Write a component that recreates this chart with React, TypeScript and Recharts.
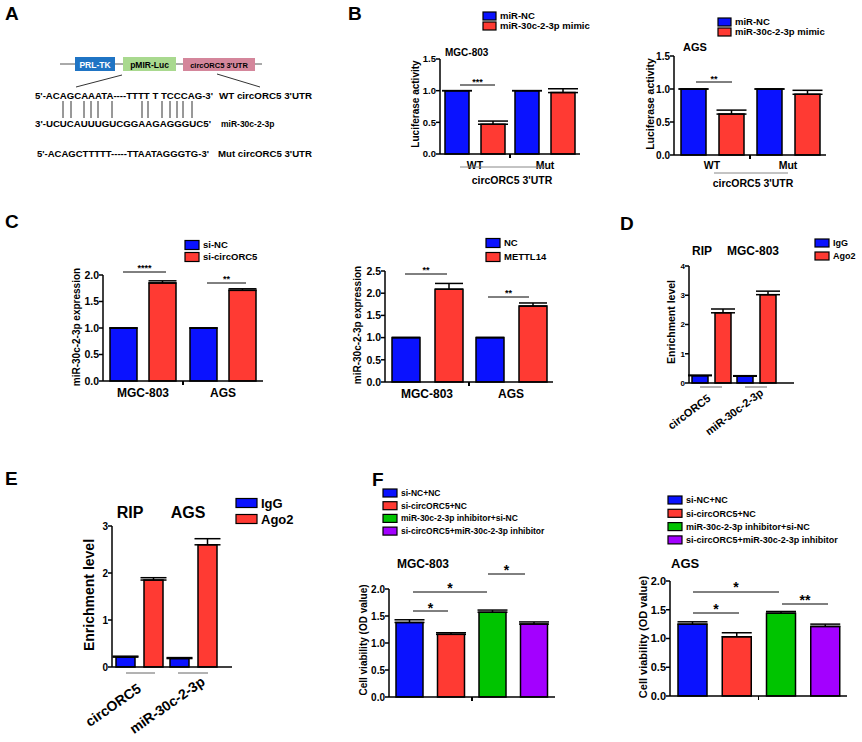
import { BarChart, Bar, XAxis, YAxis, ErrorBar, Cell } from 'recharts';

const FONT = '"Liberation Sans", Arial, Helvetica, sans-serif';
const BLUE = '#0a12ff';
const RED = '#ff3a33';
const GREEN = '#00c400';
const PURPLE = '#a300ff';

// B: luciferase reporter
const bGroups = ['WT', 'Mut'];
const bMgcNc = [1.0, 1.0];
const bMgcNcErr = [0, 0];
const bMgcMimic = [0.47, 0.97];
const bMgcMimicErr = [0.05, 0.06];
const bAgsNc = [1.0, 1.0];
const bAgsNcErr = [0, 0];
const bAgsMimic = [0.62, 0.92];
const bAgsMimicErr = [0.06, 0.06];
const bTicks = [0, 0.5, 1.0, 1.5];

// C: miR-30c-2-3p expression
const cGroups = ['MGC-803', 'AGS'];
const cSiNc = [1.0, 1.0];
const cSiNcErr = [0, 0];
const cSiCirc = [1.85, 1.71];
const cSiCircErr = [0.04, 0.03];
const cNc = [1.0, 1.0];
const cNcErr = [0, 0];
const cMettl14 = [2.09, 1.71];
const cMettl14Err = [0.13, 0.07];
const cTicksLeft = [0, 0.5, 1.0, 1.5, 2.0];
const cTicksRight = [0, 0.5, 1.0, 1.5, 2.0, 2.5];

// D / E: RIP
const ripTargets = ['circORC5', 'miR-30c-2-3p'];
const dIgG = [0.25, 0.23];
const dIgGErr = [0.02, 0.02];
const dAgo2 = [2.4, 3.02];
const dAgo2Err = [0.13, 0.12];
const dTicks = [0, 1, 2, 3, 4];
const eIgG = [0.21, 0.18];
const eIgGErr = [0.02, 0.02];
const eAgo2 = [1.85, 2.6];
const eAgo2Err = [0.05, 0.13];
const eTicks = [0, 1, 2, 3];

// F: cell viability
const fGroups = ['si-NC+NC', 'si-circORC5+NC', 'miR-30c-2-3p inhibitor+si-NC', 'si-circORC5+miR-30c-2-3p inhibitor'];
const fColors = [BLUE, RED, GREEN, PURPLE];
const fMgc = [1.38, 1.16, 1.57, 1.35];
const fMgcErr = [0.05, 0.03, 0.04, 0.04];
const fAgs = [1.25, 1.03, 1.44, 1.21];
const fAgsErr = [0.04, 0.07, 0.03, 0.04];
const fTicks = [0, 0.5, 1.0, 1.5, 2.0];

// A: schematic
const pairLines = [63, 71, 84, 91, 98, 112, 142, 148, 162, 170, 177, 183, 192];

const axisStyle = { stroke: '#000', strokeWidth: 1.5 };
const one = (v: number) => v.toFixed(1);
const int = (v: number) => String(v);

function XTick(props: any) {
  const { x, y, payload, fs, dy, angle, dx } = props;
  if (angle) {
    const px = x + dx;
    const py = y + dy;
    return (
      <text x={px} y={py} transform={`rotate(${angle} ${px} ${py})`} textAnchor="middle"
        fontSize={fs} fontWeight={700} fontFamily={FONT} fill="#000">{payload.value}</text>
    );
  }
  return (
    <text x={x} y={y + dy} textAnchor="middle" fontSize={fs} fontWeight={700} fontFamily={FONT} fill="#000">
      {payload.value}
    </text>
  );
}

type GroupedProps = {
  left: number; top: number; w: number; h: number;
  groups: string[];
  a: number[]; aErr: number[]; b: number[]; bErr: number[];
  yMax: number; ticks: number[]; fmt: (v: number) => string; tickFs: number;
  barSize: number; barGap: number; errW: number; padRight?: number;
  xFs: number; xDy: number; angle?: number; xDx?: number; midTick?: boolean;
};

function GroupedBars(p: GroupedProps) {
  const data = p.groups.map((g, i) => ({
    name: g, a: p.a[i], aErr: [0, p.aErr[i]], b: p.b[i], bErr: [0, p.bErr[i]],
  }));
  const L = 44, T = 10, R = 10, B = 80;
  const pr = p.padRight ?? 0;
  return (
    <div style={{ position: 'absolute', left: p.left - L, top: p.top - T }}>
      <BarChart width={p.w + L + R} height={p.h + T + B} data={data}
        margin={{ top: T, right: R, left: 0, bottom: 0 }} barGap={p.barGap} barSize={p.barSize}>
        <XAxis dataKey="name" height={B} axisLine={axisStyle} tickLine={false} tickSize={0} tickMargin={0}
          interval={0} padding={{ left: 0, right: pr }}
          tick={(tp: any) => <XTick {...tp} fs={p.xFs} dy={p.xDy} angle={p.angle} dx={p.xDx ?? 0} />} />
        <YAxis width={L} domain={[0, p.yMax]} ticks={p.ticks} tickFormatter={p.fmt} interval={0}
          axisLine={axisStyle} tickLine={axisStyle} tickSize={4} tickMargin={0}
          tick={{ fill: '#000', fontSize: p.tickFs, fontWeight: 700, fontFamily: FONT }} />
        <Bar dataKey="a" fill={BLUE} stroke="#000" strokeWidth={1.5} isAnimationActive={false}>
          <ErrorBar dataKey="aErr" width={p.errW} stroke="#000" strokeWidth={1.5} direction="y" />
        </Bar>
        <Bar dataKey="b" fill={RED} stroke="#000" strokeWidth={1.5} isAnimationActive={false}>
          <ErrorBar dataKey="bErr" width={p.errW} stroke="#000" strokeWidth={1.5} direction="y" />
        </Bar>
      </BarChart>
      {p.midTick && (
        <div style={{ position: 'absolute', left: L + (p.w - pr) / 2 - 0.75, top: T + p.h, width: 1.5, height: 4, background: '#000' }} />
      )}
    </div>
  );
}

type FourProps = {
  left: number; top: number; w: number; h: number;
  values: number[]; errs: number[]; barSize: number; tickFs: number;
};

function FourBars(p: FourProps) {
  const data = fGroups.map((g, i) => ({ name: g, v: p.values[i], err: [0, p.errs[i]] }));
  const L = 44, T = 10, R = 10, B = 10;
  return (
    <div style={{ position: 'absolute', left: p.left - L, top: p.top - T }}>
      <BarChart width={p.w + L + R} height={p.h + T + B} data={data}
        margin={{ top: T, right: R, left: 0, bottom: 0 }} barSize={p.barSize}>
        <XAxis dataKey="name" height={B} axisLine={axisStyle} tickLine={false} tick={false} />
        <YAxis width={L} domain={[0, 2]} ticks={fTicks} tickFormatter={one} interval={0}
          axisLine={axisStyle} tickLine={axisStyle} tickSize={4} tickMargin={0}
          tick={{ fill: '#000', fontSize: p.tickFs, fontWeight: 700, fontFamily: FONT }} />
        <Bar dataKey="v" stroke="#000" strokeWidth={1.5} isAnimationActive={false}>
          {p.values.map((_, i) => <Cell key={i} fill={fColors[i]} />)}
          <ErrorBar dataKey="err" width={15} stroke="#000" strokeWidth={1.5} direction="y" />
        </Bar>
      </BarChart>
      <div style={{ position: 'absolute', left: L + p.w / 2 - 0.75, top: T + p.h, width: 1.5, height: 4, background: '#000' }} />
    </div>
  );
}

function Txt(props: { x: number; y: number; s: number; a?: 'start' | 'middle' | 'end'; len?: number; fill?: string; children: any }) {
  return (
    <text x={props.x} y={props.y} fontSize={props.s} fontWeight={700} fontFamily={FONT} fill={props.fill ?? '#000'}
      textAnchor={props.a ?? 'start'} textLength={props.len} lengthAdjust={props.len ? 'spacingAndGlyphs' : undefined}>
      {props.children}
    </text>
  );
}

function YLabel({ cx, cy, s, children }: { cx: number; cy: number; s: number; children: any }) {
  const x = cx + 0.35 * s;
  return (
    <text x={x} y={cy} transform={`rotate(-90 ${x} ${cy})`} textAnchor="middle" fontSize={s} fontWeight={700}
      fontFamily={FONT} fill="#000">{children}</text>
  );
}

function Legend({ x, y, dy, sw, sh, s, items }: { x: number; y: number; dy: number; sw: number; sh: number; s: number; items: [string, string][] }) {
  return (
    <g>
      {items.map(([label, color], i) => (
        <g key={label}>
          <rect x={x} y={y + i * dy - sh / 2} width={sw} height={sh} fill={color} stroke="#000" strokeWidth={1.2} />
          <Txt x={x + sw + 4} y={y + i * dy + 0.36 * s} s={s}>{label}</Txt>
        </g>
      ))}
    </g>
  );
}

function Sig({ x1, x2, y, label, s, gap }: { x1: number; x2: number; y: number; label: string; s: number; gap: number }) {
  return (
    <g>
      <line x1={x1} x2={x2} y1={y} y2={y} stroke="#000" strokeWidth={1} />
      <Txt x={(x1 + x2) / 2} y={y - gap + 0.57 * s} s={s} a="middle">{label}</Txt>
    </g>
  );
}

export default function App() {
  return (
    <div style={{ position: 'absolute', left: 0, top: 0, width: 862, height: 742, background: '#fff', overflow: 'hidden' }}>
      {/* B */}
      <GroupedBars left={440} top={59} w={140} h={95} groups={bGroups} a={bMgcNc} aErr={bMgcNcErr}
        b={bMgcMimic} bErr={bMgcMimicErr} yMax={1.5} ticks={bTicks} fmt={one} tickFs={9.5}
        barSize={24} barGap={12} errW={15} xFs={10.5} xDy={15} midTick />
      <GroupedBars left={674} top={56} w={152} h={99} groups={bGroups} a={bAgsNc} aErr={bAgsNcErr}
        b={bAgsMimic} bErr={bAgsMimicErr} yMax={1.5} ticks={bTicks} fmt={one} tickFs={10}
        barSize={25} barGap={13} errW={15} xFs={10.5} xDy={14} midTick />
      {/* C */}
      <GroupedBars left={103} top={275} w={160} h={106} groups={cGroups} a={cSiNc} aErr={cSiNcErr}
        b={cSiCirc} bErr={cSiCircErr} yMax={2} ticks={cTicksLeft} fmt={one} tickFs={10.5}
        barSize={27} barGap={12} errW={14} xFs={12} xDy={16} midTick />
      <GroupedBars left={385} top={271} w={168} h={111} groups={cGroups} a={cNc} aErr={cNcErr}
        b={cMettl14} bErr={cMettl14Err} yMax={2.5} ticks={cTicksRight} fmt={one} tickFs={10.5}
        barSize={28} barGap={15} errW={14} xFs={12} xDy={16} midTick />
      {/* D */}
      <GroupedBars left={689} top={266} w={105} h={117} groups={ripTargets} a={dIgG} aErr={dIgGErr}
        b={dAgo2} bErr={dAgo2Err} yMax={4} ticks={dTicks} fmt={int} tickFs={8}
        barSize={16} barGap={7} errW={12} padRight={15} xFs={11} xDy={32} xDx={-20} angle={-37} />
      {/* E */}
      <GroupedBars left={112} top={526} w={120} h={141} groups={ripTargets} a={eIgG} aErr={eIgGErr}
        b={eAgo2} bErr={eAgo2Err} yMax={3} ticks={eTicks} fmt={int} tickFs={10}
        barSize={19} barGap={9} errW={13} padRight={12} xFs={14} xDy={42} xDx={-23} angle={-35} />
      {/* F */}
      <FourBars left={389} top={589} w={166} h={108} values={fMgc} errs={fMgcErr} barSize={27} tickFs={10} />
      <FourBars left={670} top={581} w={177} h={115} values={fAgs} errs={fAgsErr} barSize={29} tickFs={11} />

      <svg width={862} height={742} style={{ position: 'absolute', left: 0, top: 0, pointerEvents: 'none' }}>
        {/* panel letters */}
        <Txt x={5} y={20} s={19}>A</Txt>
        <Txt x={348} y={20} s={19}>B</Txt>
        <Txt x={5} y={228} s={19}>C</Txt>
        <Txt x={620} y={230} s={19}>D</Txt>
        <Txt x={5} y={485} s={19}>E</Txt>
        <Txt x={372} y={486} s={19}>F</Txt>

        {/* A schematic */}
        <line x1={60} x2={262} y1={64} y2={64} stroke="#555" strokeWidth={1} />
        <rect x={75} y={57} width={40} height={14} fill="#1f74c4" />
        <Txt x={95} y={67.5} s={8.5} a="middle" fill="#fff">PRL-TK</Txt>
        <rect x={123} y={57} width={53} height={14} fill="#a9d98f" />
        <Txt x={149.5} y={67.5} s={8.5} a="middle">pMIR-Luc</Txt>
        <rect x={183} y={58} width={72} height={13} fill="#d4869b" />
        <Txt x={219} y={67.5} s={7.5} a="middle">circORC5 3'UTR</Txt>
        <line x1={122} y1={75} x2={76} y2={87} stroke="#333" strokeWidth={1} />
        <line x1={217} y1={74} x2={260} y2={87} stroke="#333" strokeWidth={1} />
        <Txt x={35} y={99} s={8.5} len={178}>5'-ACAGCAAATA----TTTT T TCCCAG-3'</Txt>
        <Txt x={219} y={99} s={8.5} len={93}>WT circORC5 3'UTR</Txt>
        {pairLines.map((x) => (
          <line key={x} x1={x} x2={x} y1={101} y2={118} stroke="#333" strokeWidth={1} />
        ))}
        <Txt x={35} y={127} s={8.5} len={176}>3'-UCUCAUUUGUCGGAAGAGGGUC5'</Txt>
        <Txt x={221} y={127} s={8.5}>miR-30c-2-3p</Txt>
        <Txt x={37} y={157} s={8.5} len={172}>5'-ACAGCTTTTT-----TTAATAGGGTG-3'</Txt>
        <Txt x={218} y={157} s={8.5} len={94}>Mut circORC5 3'UTR</Txt>

        {/* B left */}
        <Legend x={483} y={16} dy={10} sw={13} sh={8} s={9.5} items={[['miR-NC', BLUE], ['miR-30c-2-3p mimic', RED]]} />
        <Txt x={445} y={55.5} s={10}>MGC-803</Txt>
        <YLabel cx={415} cy={104} s={10}>Luciferase activity</YLabel>
        <Sig x1={460} x2={495} y={85} label="***" s={9} gap={5} />
        <line x1={460} x2={547} y1={167} y2={167} stroke="#888" strokeWidth={1} />
        <Txt x={512} y={184} s={10.5} a="middle">circORC5 3'UTR</Txt>
        {/* B right */}
        <Legend x={718} y={22} dy={10} sw={13} sh={8} s={9.5} items={[['miR-NC', BLUE], ['miR-30c-2-3p mimic', RED]]} />
        <Txt x={683} y={51} s={11}>AGS</Txt>
        <YLabel cx={650} cy={104} s={10.5}>Luciferase activity</YLabel>
        <Sig x1={696} x2={732} y={82} label="**" s={9} gap={5} />
        <line x1={714} x2={788} y1={173} y2={173} stroke="#888" strokeWidth={1} />
        <Txt x={753} y={187} s={10.5} a="middle">circORC5 3'UTR</Txt>

        {/* C left */}
        <Legend x={185} y={245} dy={12} sw={14} sh={9} s={9.5} items={[['si-NC', BLUE], ['si-circORC5', RED]]} />
        <YLabel cx={76} cy={327} s={10}>miR-30c-2-3p expression</YLabel>
        <Sig x1={123} x2={166} y={272} label="****" s={9} gap={6} />
        <Sig x1={207} x2={246} y={283} label="**" s={9} gap={6} />
        {/* C right */}
        <Legend x={486} y={243} dy={14} sw={14} sh={9} s={9.5} items={[['NC', BLUE], ['METTL14', RED]]} />
        <YLabel cx={357} cy={325} s={10}>miR-30c-2-3p expression</YLabel>
        <Sig x1={405} x2={447} y={274} label="**" s={9} gap={6} />
        <Sig x1={488} x2={529} y={297} label="**" s={9} gap={6} />

        {/* D */}
        <Legend x={815} y={243} dy={13} sw={14} sh={8} s={9} items={[['IgG', BLUE], ['Ago2', RED]]} />
        <Txt x={702} y={255} s={12} a="middle">RIP</Txt>
        <Txt x={753} y={255} s={12} a="middle">MGC-803</Txt>
        <YLabel cx={671} cy={322} s={10.5}>Enrichment level</YLabel>
        <line x1={700} x2={722} y1={387} y2={387} stroke="#666" strokeWidth={1} />
        <line x1={745} x2={767} y1={387} y2={387} stroke="#666" strokeWidth={1} />

        {/* E */}
        <Legend x={236} y={503} dy={16} sw={21} sh={9} s={13} items={[['IgG', BLUE], ['Ago2', RED]]} />
        <Txt x={130} y={518} s={16} a="middle">RIP</Txt>
        <Txt x={188} y={518} s={16} a="middle">AGS</Txt>
        <YLabel cx={89} cy={595} s={14}>Enrichment level</YLabel>
        <line x1={126} x2={155} y1={673} y2={673} stroke="#666" strokeWidth={1} />
        <line x1={178} x2={208} y1={673} y2={673} stroke="#666" strokeWidth={1} />

        {/* F left */}
        <Legend x={383} y={493} dy={12.7} sw={14} sh={8} s={8.5}
          items={fGroups.map((g, i) => [g, fColors[i]] as [string, string])} />
        <Txt x={397} y={568} s={12}>MGC-803</Txt>
        <YLabel cx={363} cy={640} s={10}>Cell viability (OD value)</YLabel>
        <Sig x1={413} x2={448} y={611} label="*" s={14} gap={6} />
        <Sig x1={413} x2={487} y={592} label="*" s={14} gap={7} />
        <Sig x1={488} x2={525} y={574} label="*" s={14} gap={7} />
        {/* F right */}
        <Legend x={668} y={500} dy={13.3} sw={14} sh={8} s={9}
          items={fGroups.map((g, i) => [g, fColors[i]] as [string, string])} />
        <Txt x={671} y={568} s={13}>AGS</Txt>
        <YLabel cx={643} cy={637} s={11}>Cell viability (OD value)</YLabel>
        <Sig x1={693} x2={779} y={592} label="*" s={14} gap={8} />
        <Sig x1={693} x2={739} y={613} label="*" s={14} gap={7} />
        <Sig x1={782} x2={828} y={604} label="**" s={14} gap={7} />
      </svg>
    </div>
  );
}
